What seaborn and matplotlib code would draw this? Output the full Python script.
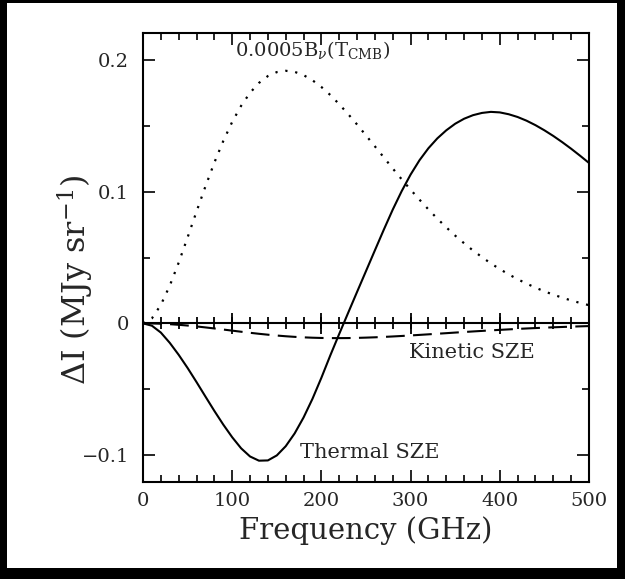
import numpy as np
import pandas as pd
import matplotlib
matplotlib.use("Agg")
import matplotlib.pyplot as plt
import seaborn as sns
from matplotlib.patches import Rectangle
from matplotlib.ticker import MultipleLocator

# valeurs (MJy/sr), tous les 10 GHz
freq = list(range(0, 510, 10))

thermal = [0.0, -0.0018, -0.0070, -0.0148, -0.0239, -0.0339, -0.0446, -0.0556,
           -0.0665, -0.0769, -0.0865, -0.0949, -0.1011, -0.1043, -0.1041, -0.1003,
           -0.0933, -0.0836, -0.0715, -0.0573, -0.0413, -0.0243, -0.0080, 0.0080,
           0.0239, 0.0397, 0.0555, 0.0712, 0.0864, 0.1004, 0.1130, 0.1239,
           0.1330, 0.1405, 0.1466, 0.1516, 0.1554, 0.1581, 0.1598, 0.1606,
           0.1602, 0.1588, 0.1567, 0.1539, 0.1505, 0.1466, 0.1423, 0.1376,
           0.1326, 0.1273, 0.1218]

kinetic = [0.0, -0.00007, -0.00028, -0.00063, -0.00110, -0.00167, -0.00234, -0.00309,
           -0.00388, -0.00470, -0.00554, -0.00637, -0.00717, -0.00793, -0.00862, -0.00925,
           -0.00980, -0.01026, -0.01063, -0.01091, -0.01110, -0.01120, -0.01122, -0.01117,
           -0.01104, -0.01084, -0.01060, -0.01030, -0.00996, -0.00959, -0.00919, -0.00877,
           -0.00834, -0.00789, -0.00746, -0.00701, -0.00658, -0.00615, -0.00574, -0.00533,
           -0.00495, -0.00458, -0.00423, -0.00389, -0.00358, -0.00328, -0.00300, -0.00275,
           -0.00250, -0.00228, -0.00207]

planck = [0.0, 0.0038, 0.0140, 0.0286, 0.0461, 0.0653, 0.0849, 0.1040,
          0.1221, 0.1385, 0.1530, 0.1652, 0.1751, 0.1826, 0.1878, 0.1908,
          0.1918, 0.1910, 0.1885, 0.1846, 0.1795, 0.1734, 0.1664, 0.1589,
          0.1510, 0.1427, 0.1344, 0.1260, 0.1176, 0.1094, 0.1015, 0.0939,
          0.0865, 0.0795, 0.0729, 0.0666, 0.0608, 0.0553, 0.0503, 0.0455,
          0.0412, 0.0372, 0.0335, 0.0302, 0.0271, 0.0243, 0.0218, 0.0195,
          0.0174, 0.0155, 0.0138]

df = pd.DataFrame({"freq": freq, "thermal": thermal, "kinetic": kinetic, "planck": planck})

sns.set_style("white")
plt.rcParams["font.family"] = ["DejaVu Serif"]
plt.rcParams["mathtext.fontset"] = "dejavuserif"

fig = plt.figure(figsize=(6.25, 5.79), dpi=100)
fig.patch.set_facecolor("black")
# cadre blanc dans le fond noir
fig.add_artist(Rectangle((0.0112, 0.019), 0.976, 0.9758, transform=fig.transFigure,
                         facecolor="white", edgecolor="none", zorder=-10))
ax = fig.add_axes([0.2288, 0.1675, 0.7136, 0.7755])
ax.set_facecolor("white")

sns.lineplot(data=df, x="freq", y="thermal", color="black", lw=1.5, ax=ax)
sns.lineplot(data=df, x="freq", y="kinetic", color="black", lw=1.5,
             linestyle=(0, (9, 4)), ax=ax)
sns.lineplot(data=df, x="freq", y="planck", color="black", lw=1.6,
             linestyle=(0, (1, 3.5)), ax=ax)

ax.set_xlim(0, 500)
ax.set_ylim(-0.1205, 0.2205)
major_x = MultipleLocator(100)
minor_x = MultipleLocator(20)
ax.xaxis.set_major_locator(major_x)
ax.xaxis.set_minor_locator(minor_x)
ax.set_yticks([-0.1, 0, 0.1, 0.2], labels=["\u22120.1", "0", "0.1", "0.2"])
ax.yaxis.set_minor_locator(MultipleLocator(0.05))
ax.tick_params(which="both", direction="in", top=True, right=True, bottom=True, left=True,
               width=1.2, labelsize=14, color="black")
ax.tick_params(which="major", length=8.5)
ax.tick_params(which="minor", length=5)
ax.tick_params(axis="x", pad=7)
ax.tick_params(axis="y", pad=10)
for s in ax.spines.values():
    s.set_linewidth(1.5)
    s.set_color("black")

# axe a zero avec graduations, aux positions donnees par les locateurs de l'axe x
ax.axhline(0, color="black", lw=1.5, zorder=3)
pos_minor = np.array(minor_x.tick_values(0, 500))
pos_major = np.array(major_x.tick_values(0, 500))
pos_minor = pos_minor[(pos_minor > 0) & (pos_minor < 500)]
pos_major = pos_major[(pos_major > 0) & (pos_major < 500)]
ax.vlines(pos_minor, -0.0045, 0.0045, colors="black", lw=1.3, zorder=3)
ax.vlines(pos_major, -0.008, 0.008, colors="black", lw=1.3, zorder=3)

ax.set_xlabel("Frequency (GHz)", fontsize=21)
ax.xaxis.set_label_coords(0.5, -0.0757)
ax.set_ylabel(r"$\Delta$I (MJy sr$^{-1}$)", fontsize=23)
ax.yaxis.set_label_coords(-0.105, 0.45)

ax.text(103, 0.203, r"0.0005B$_\nu$(T$_{\rm CMB}$)", fontsize=14, ha="left", va="baseline")
ax.text(298, -0.0266, "Kinetic SZE", fontsize=15, ha="left", va="baseline")
ax.text(176, -0.1019, "Thermal SZE", fontsize=15, ha="left", va="baseline")

fig.savefig("out.png", dpi=100, facecolor=fig.get_facecolor())
